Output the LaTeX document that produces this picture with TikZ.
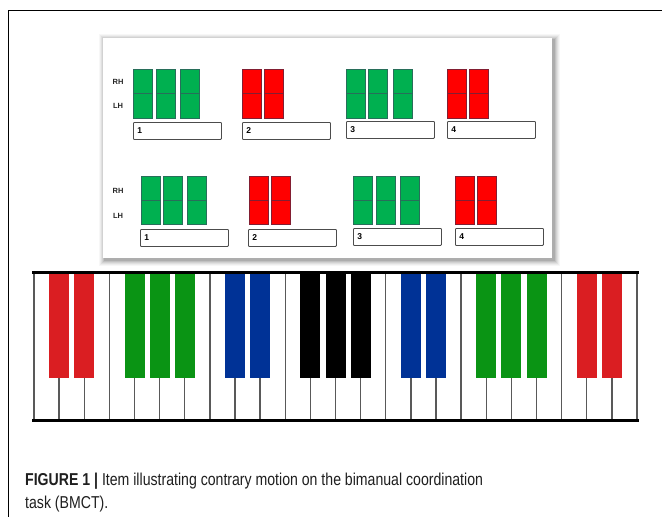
\documentclass[tikz,border=0pt]{standalone}
\usepackage{fontspec}
\setmainfont{Liberation Sans}
\newfontfamily\capfont[FakeStretch=0.82]{Liberation Sans}
\definecolor{bgreen}{RGB}{0,176,80}
\definecolor{bgreenD}{RGB}{40,110,90}
\definecolor{bred}{RGB}{255,0,0}
\definecolor{bredD}{RGB}{130,30,50}
\definecolor{kred}{RGB}{218,30,34}
\definecolor{kgreen}{RGB}{10,148,20}
\definecolor{kblue}{RGB}{0,50,150}
\definecolor{kblack}{RGB}{0,0,0}
\tikzset{
  gblock/.style={fill=bgreen,draw=bgreenD,line width=0.9pt},
  rblock/.style={fill=bred,draw=bredD,line width=0.9pt},
  numbox/.style={draw=black!70,line width=0.9pt,rounded corners=0.8pt,minimum height=17pt,
    text width=80pt,align=left,inner xsep=4pt,inner ysep=0pt,font=\bfseries\fontsize{8.5}{9}\selectfont,anchor=north west},
  hand/.style={font=\bfseries\fontsize{7.5}{8}\selectfont,text=black!85,inner sep=0pt},
  keyline/.style={draw=black!65,line width=1.4pt},
  edge/.style={draw=black,line width=3pt},
  captxt/.style={anchor=base west,inner sep=0pt,text=black!88,font=\capfont\fontsize{17.2}{22}\selectfont}
}
\begin{document}
\begin{tikzpicture}[x=1pt,y=-1pt]
\useasboundingbox (0,0) rectangle (662,517);
\fill[white] (0,0) rectangle (662,517);
% outer frame
\draw[line width=1pt] (8,517) -- (8,10.5) -- (662,10.5);
% panel with shadow
\foreach \o/\a in {6/0.03,5/0.04,4/0.05,3/0.06,2/0.08,1/0.10} {
  \fill[black,opacity=\a] (103-\o+1.5,38-\o+1.5) rectangle (552+\o+1.5,258+\o+1.5);}
\fill[white] (103,38) rectangle (552,258);
% row 1
\node[hand] (rh1) at (118,82) {RH};
\node[hand] (lh1) at (118,106) {LH};
\foreach \x in {133,156,180,346,368,393} {
  \draw[gblock] (\x,69) rectangle ++(19,24);
  \draw[gblock] (\x,93) rectangle ++(19,25);}
\foreach \x in {242,264,447,469} {
  \draw[rblock] (\x,69) rectangle ++(19,24);
  \draw[rblock] (\x,93) rectangle ++(19,25);}
\node[numbox] (a1) at (133,122) {1};
\node[numbox] (a2) at (242,122) {2};
\node[numbox] (a3) at (346,121) {3};
\node[numbox] (a4) at (447,121) {4};
% row 2
\node[hand] (rh2) at (118,191) {RH};
\node[hand] (lh2) at (118,216) {LH};
\foreach \x in {141,163,187,353,376,400} {
  \draw[gblock] (\x,176) rectangle ++(19,24);
  \draw[gblock] (\x,200) rectangle ++(19,24);}
\foreach \x in {249,271,455,477} {
  \draw[rblock] (\x,176) rectangle ++(19,24);
  \draw[rblock] (\x,200) rectangle ++(19,24);}
\node[numbox] (b1) at (140,229) {1};
\node[numbox] (b2) at (248,229) {2};
\node[numbox] (b3) at (353,228) {3};
\node[numbox] (b4) at (455,228) {4};
% keyboard
\foreach \i in {0,...,24} {
  \draw[keyline] ({34+25.125*\i},272) -- ({34+25.125*\i},420);}
\foreach \i/\c in {1/kred,2/kred,4/kgreen,5/kgreen,6/kgreen,8/kblue,9/kblue,
                   11/kblack,12/kblack,13/kblack,15/kblue,16/kblue,
                   18/kgreen,19/kgreen,20/kgreen,22/kred,23/kred} {
  \fill[\c] ({34+25.125*\i-10},272) rectangle ({34+25.125*\i+10},378);}
\draw[edge] (32,272) -- (639,272);
\draw[edge] (32,420) -- (639,420);
% caption
\node[captxt] (cap1) at (25,485) {\textbf{FIGURE 1 |} Item illustrating contrary motion on the bimanual coordination};
\node[captxt] (cap2) at (25,508) {task (BMCT).};
\end{tikzpicture}
\end{document}
